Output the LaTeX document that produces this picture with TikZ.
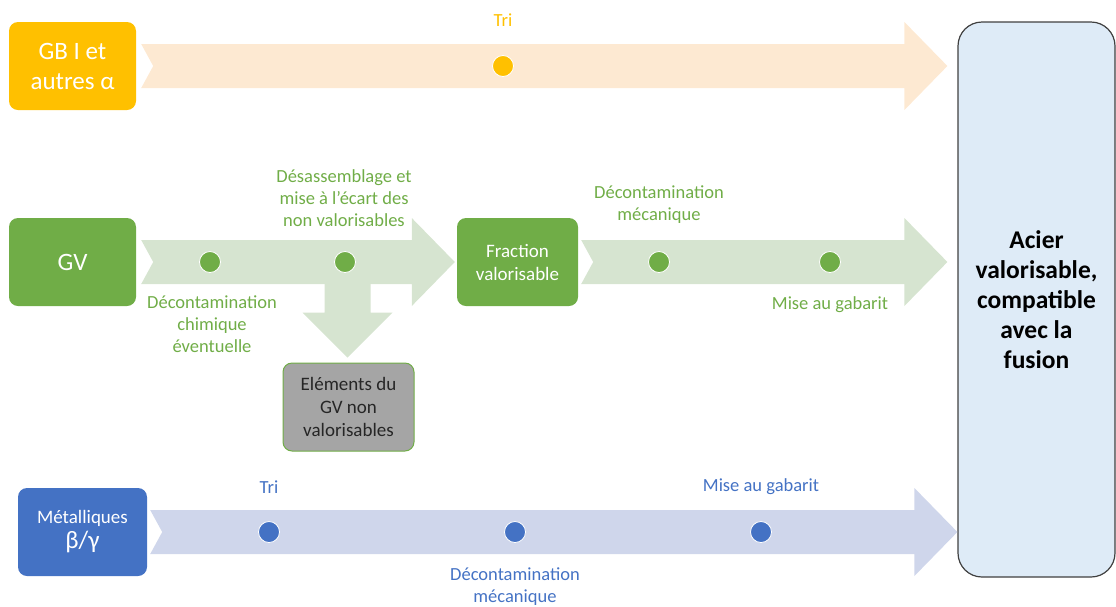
\documentclass[tikz,border=0pt]{standalone}
\usepackage{fontspec}
\setmainfont{Carlito}
\usetikzlibrary{calc}
\definecolor{cOr}{HTML}{FFC000}
\definecolor{cOrL}{HTML}{FDE9D2}
\definecolor{cGr}{HTML}{70AD47}
\definecolor{cGrL}{HTML}{D6E4D0}
\definecolor{cBl}{HTML}{4472C4}
\definecolor{cBlL}{HTML}{CFD6EB}
\definecolor{cAc}{HTML}{DEEBF7}
\definecolor{cGy}{HTML}{A5A5A5}
\newcommand\fatarrow[3]{%
  \fill[#1] let \p1=(#2), \p2=(#3) in
    (\x1,\y1+22pt) -- (\x2-43pt,\y1+22pt) -- (\x2-43pt,\y1+44pt) -- (\x2,\y1)
    -- (\x2-43pt,\y1-44pt) -- (\x2-43pt,\y1-22pt) -- (\x1,\y1-22pt) -- (\x1+12pt,\y1) -- cycle;}
\tikzset{
  box/.style={rounded corners=9pt, minimum width=127pt, minimum height=88pt, text=white,
    align=center, inner sep=0pt, font=\fontsize{19}{23}\selectfont},
  bigbox/.style={box, font=\fontsize{25}{30}\selectfont},
  dot/.style={circle, minimum size=21pt, inner sep=0pt, draw=white, line width=0.8pt},
  lbl/.style={align=center, inner sep=0pt, font=\fontsize{18.5}{22}\selectfont},
}
\begin{document}
\begin{tikzpicture}[x=1pt,y=-1pt]
\useasboundingbox (0,0) rectangle (1116,606);
% nodes
\node[bigbox, fill=cOr] (gb) at (72.5,66) {GB I et\\autres α};
\node[bigbox, fill=cGr] (gv) at (72.5,262) {GV};
\node[box, fill=cGr, minimum width=121pt] (fr) at (517.5,262) {Fraction\\valorisable};
\node[box, fill=cGy, draw=cGr, line width=1pt, text=black!85, minimum width=131pt] (el) at (348.5,407) {Eléments du\\GV non\\valorisables};
\node[box, fill=cBl, minimum width=129pt] (me) at (82.5,532) {Métalliques\\[2pt]{\fontsize{25}{25}\selectfont β/γ}};
\node[draw=black!75, line width=1.2pt, fill=cAc, rounded corners=24pt, minimum width=157pt, minimum height=555pt,
  align=center, font=\fontsize{25.5}{30}\selectfont\bfseries] (ac) at (1036.5,299.5)
  {Acier\\valorisable,\\compatible\\avec la\\fusion};
% coordinates for arrows
\coordinate (o1) at ($(gb.east)+(5,0)$);
\coordinate (o2) at ($(ac.west |- gb.east)+(-10,0)$);
\coordinate (g1) at ($(gv.east)+(5,0)$);
\coordinate (g2) at ($(fr.west)+(-2,0)$);
\coordinate (g3) at ($(fr.east)+(3,0)$);
\coordinate (g4) at ($(ac.west |- fr.east)+(-10,0)$);
\coordinate (b1) at ($(me.east)+(3,0)$);
\coordinate (b2) at ($(ac.west |- me.east)+(0,0)$);
% arrows
\fatarrow{cOrL}{o1}{o2}
\fatarrow{cGrL}{g1}{g2}
\fatarrow{cGrL}{g3}{g4}
\fatarrow{cBlL}{b1}{b2}
\coordinate (dtip) at ($(el.north)+(-1,-5)$);
\fill[cGrL] let \p1=(dtip) in (\x1-23pt,\y1+74pt) -- (\x1+23pt,\y1+74pt) -- (\x1+23pt,\y1+45pt)
  -- (\x1+45pt,\y1+45pt) -- (\x1,\y1) -- (\x1-45pt,\y1+45pt) -- (\x1-23pt,\y1+45pt) -- cycle;
% dots
\node[dot, fill=cOr] (d1) at (503,66) {};
\node[dot, fill=cGr] (d2) at (210,262) {};
\node[dot, fill=cGr] (d3) at (345,262) {};
\node[dot, fill=cGr] (d4) at (659,262) {};
\node[dot, fill=cGr] (d5) at (830,262) {};
\node[dot, fill=cBl] (d6) at (269,532) {};
\node[dot, fill=cBl] (d7) at (515,532) {};
\node[dot, fill=cBl] (d8) at (761,532) {};
% labels
\node[lbl, text=cOr] (t1) at (503,20) {Tri};
\node[lbl, text=cGr] (t2) at (212,324) {Décontamination\\chimique\\éventuelle};
\node[lbl, text=cGr] (t3) at (344,198) {Désassemblage et\\mise à l’écart des\\non valorisables};
\node[lbl, text=cGr] (t4) at (659,205) {Décontamination\\mécanique};
\node[lbl, text=cGr] (t5) at (830,305) {Mise au gabarit};
\node[lbl, text=cBl] (t6) at (269,487) {Tri};
\node[lbl, text=cBl] (t7) at (761,487) {Mise au gabarit};
\node[lbl, text=cBl] (t8) at (515,587) {Décontamination\\mécanique};
\end{tikzpicture}
\end{document}
